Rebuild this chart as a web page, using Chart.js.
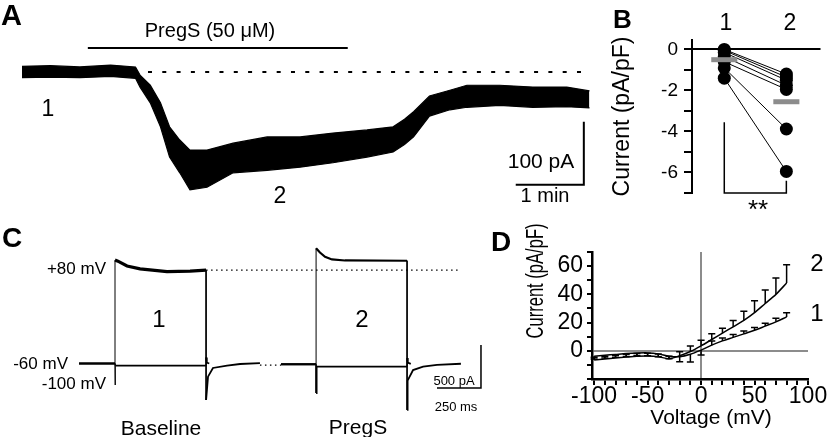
<!DOCTYPE html>
<html>
<head>
<meta charset="utf-8">
<script src="https://cdn.jsdelivr.net/npm/chart.js@4.4.1/dist/chart.umd.min.js"></script>
<style>
  body { margin: 0; background: #fff; }
  #fig { position: relative; width: 827px; height: 437px; overflow: hidden;
         font-family: 'Liberation Sans', Arial, sans-serif; color: #000; }
  canvas { position: absolute; }
  .t { position: absolute; line-height: 1; white-space: nowrap; transform: translate(-50%, -50%); }
  .r { transform: translate(-100%, -50%); }
  .lbl { position: absolute; line-height: 1; font-weight: bold; }
</style>
</head>
<body>
<div id="fig">
  <canvas id="chartA" width="590" height="184" style="left:12px;top:24px"></canvas>
  <canvas id="chartB" width="227" height="215" style="left:600px;top:0px"></canvas>
  <canvas id="chartC" width="430" height="200" style="left:65px;top:228px"></canvas>
  <canvas id="chartD" width="327" height="207" style="left:500px;top:230px"></canvas>

  <div class="lbl" style="left:1px;top:1px;font-size:29px">A</div>
  <div class="t" style="left:210px;top:30px;font-size:20px">PregS (50 μM)</div>
  <div class="t" style="left:48px;top:108px;font-size:23px">1</div>
  <div class="t" style="left:280px;top:195px;font-size:23px">2</div>
  <div class="t" style="left:541px;top:160px;font-size:21px">100 pA</div>
  <div class="t" style="left:545px;top:195px;font-size:20px">1 min</div>

  <div class="lbl" style="left:613px;top:6px;font-size:26px">B</div>
  <div class="t" style="left:726px;top:22px;font-size:23px">1</div>
  <div class="t" style="left:790px;top:22px;font-size:23px">2</div>
  <div class="t" style="left:758px;top:209px;font-size:26px">**</div>

  <div class="lbl" style="left:2px;top:224px;font-size:28px">C</div>
  <div class="t r" style="left:106px;top:268px;font-size:17px">+80 mV</div>
  <div class="t r" style="left:68px;top:363px;font-size:17px">-60 mV</div>
  <div class="t r" style="left:106px;top:383px;font-size:17px">-100 mV</div>
  <div class="t" style="left:159px;top:319px;font-size:24px">1</div>
  <div class="t" style="left:362px;top:319px;font-size:24px">2</div>
  <div class="t" style="left:161px;top:427px;font-size:21px">Baseline</div>
  <div class="t" style="left:358px;top:426px;font-size:21px">PregS</div>
  <div class="t" style="left:454px;top:380px;font-size:13px">500 pA</div>
  <div class="t" style="left:456px;top:406px;font-size:13px">250 ms</div>

  <div class="lbl" style="left:491px;top:228px;font-size:28px">D</div>
  <div class="t" style="left:535px;top:281px;font-size:23px;transform:translate(-50%,-50%) rotate(-90deg) scaleX(0.72)">Current (pA/pF)</div>
  <div class="t" style="left:711px;top:416px;font-size:21px">Voltage (mV)</div>
  <div class="t" style="left:817px;top:263px;font-size:24px">2</div>
  <div class="t" style="left:817px;top:313px;font-size:24px">1</div>
</div>

<script>
Chart.defaults.font.family = "'Liberation Sans', Arial, sans-serif";
Chart.defaults.color = '#000';
Chart.defaults.animation = false;

// ---- A: holding current during PregS application (s, pA); the noisy trace is kept as its upper/lower edge
const traceTime  = [0, 25, 51, 78, 100, 104, 113, 122, 130, 139, 148, 163, 186, 216, 245, 274, 304, 327, 337, 345, 359, 377, 392, 421, 450, 480, 500];
const traceUpper = [9, 10, 8, 11, 8, -5, -21, -49, -87, -108, -124, -124, -113, -103, -103, -97, -92, -87, -75, -63, -38, -29, -21, -21, -24, -24, -30];
const traceLower = [-9, -8, -9, -7, -10, -24, -49, -87, -135, -160, -187, -183, -160, -156, -151, -144, -135, -127, -115, -103, -70, -60, -56, -53, -56, -55, -57];
const pregsOnOff = [58, 287];
const pregsBarLevel = 38;
const baselineDotsFrom = 111;
const scaleA = { x: 495, y: -179, pA: 100, s: 60 };

// ---- B: current density per cell (pA/pF), 1 = baseline, 2 = PregS
const cellsBaseline = [0, -0.05, -0.15, -0.35, -0.6, -0.9, -1.4];
const cellsPregS    = [-1.2, -1.35, -1.5, -1.75, -1.95, -3.88, -5.95];
const meanB = [-0.5, -2.55];
const sigBracket = { top: -3.55, rightTop: -6.4, bottom: -7 };

// ---- C: currents for steps to +80 and -100 mV from -60 mV (ms, pA); trace 2 placed after trace 1
const t1Up = [0, 204.5, 204.5, 221, 273, 347, 500, 631, 722, 722, 733, 761, 841, 915, 1028];
const i1Up = [0, 0, 1203, 1190, 1134, 1100, 1068, 1075, 1085, -424, -153, -52, -25, -6, 5];
const t1Down = [0, 204.5, 204.5, 207, 722, 722, 726, 740];
const i1Down = [0, 0, -250, -25, -25, 70, 10, 0];
const t2Up = [1148, 1347, 1347, 1369, 1398, 1437, 1511, 1864, 1864, 1867, 1898, 1955, 2034, 2170];
const i2Up = [-9, -9, 1340, 1290, 1240, 1210, 1198, 1195, -540, -200, -76, -37, -17, -3];
const t2Down = [1148, 1347, 1347, 1350, 1864, 1864, 1868, 1885];
const i2Down = [-9, -9, -343, -37, -37, 64, 10, -5];
const plateau1 = [2, 8];   // index range of the +80 mV plateau in t1Up
const plateau2 = [2, 7];
const plus80Dots = { from: 722, to: 2153, level: 1085 };
const gapDots = { from: 1028, to: 1148, level: -20 };
const scaleC = { x: 2284, y: -285, pA: 500, ms: 250 };

// ---- D: I-V relation (mV, pA/pF), 1 = baseline, 2 = PregS; errors signed (drawn up or down)
const voltages = [-100, -90, -80, -70, -60, -50, -40, -30, -20, -10, 0, 10, 20, 30, 40, 50, 60, 70, 80];
const ivBaseline = [-3.8, -3.2, -2.6, -2.0, -1.6, -1.5, -2.2, -3.8, -4.2, -2.5, 0.5, 4, 7, 9.5, 12, 14.5, 17.5, 20.5, 24];
const errBaseline = [-2, -2, -2, -2, -2, -2, -2, -1.8, -3.6, -5.5, -3.5, 3, 2, 2, 2, 2, 2, 2.5, 3];
const ivPregS = [-6.5, -5.9, -5.2, -4.5, -3.9, -3.7, -4.2, -5.6, -3.5, -0.5, 3.5, 8, 12.5, 17, 21.5, 27, 33.5, 40, 48];
const errPregS = [2, 2, 2, 2, 2, 2, 2, 1.8, 2.8, 3.8, 4, 4, 3.5, 4.5, 6.5, 8.5, 9.5, 11.5, 13];

function pts(xs, ys) { return xs.map((x, i) => ({ x: x, y: ys[i] })); }

function line(data, extra) {
  return Object.assign({ data: data, borderColor: '#000', borderWidth: 1.5, pointRadius: 0,
                         tension: 0, clip: false, fill: false }, extra || {});
}

function errorBars(xs, ys, errs, capHalf) {
  const out = [];
  xs.forEach((x, i) => {
    const tip = ys[i] + errs[i];
    out.push({ x: x, y: ys[i] }, { x: x, y: tip }, { x: x, y: null },
             { x: x - capHalf, y: tip }, { x: x + capHalf, y: tip }, { x: x, y: null });
  });
  return out;
}

// thick along the noisy plateau, hairline on the vertical step edges, medium elsewhere
function traceWidth(range, thick) {
  return {
    borderWidth: c => {
      if (Math.abs(c.p0.x - c.p1.x) < 0.5) return 1;
      if (c.p0DataIndex >= range[0] && c.p1DataIndex <= range[1]) return thick;
      return 1.8;
    }
  };
}

function bareScales(xmin, xmax, ymin, ymax) {
  return {
    x: { type: 'linear', min: xmin, max: xmax, display: false },
    y: { type: 'linear', min: ymin, max: ymax, display: false }
  };
}

const quiet = { legend: { display: false }, tooltip: { enabled: false } };

// A
new Chart(document.getElementById('chartA'), {
  type: 'line',
  data: { datasets: [
    line(pts(traceTime, traceUpper), { borderWidth: 1.2, fill: '+1', backgroundColor: '#000' }),
    line(pts(traceTime, traceLower), { borderWidth: 1.2 }),
    line([{ x: baselineDotsFrom, y: 0 }, { x: 500, y: 0 }], { borderWidth: 2, borderDash: [4, 10.3] }),
    line([{ x: pregsOnOff[0], y: pregsBarLevel }, { x: pregsOnOff[1], y: pregsBarLevel }], { borderWidth: 2 }),
    line([{ x: scaleA.x, y: scaleA.y + scaleA.pA }, { x: scaleA.x, y: scaleA.y },
          { x: scaleA.x - scaleA.s, y: scaleA.y }], { borderWidth: 2 })
  ]},
  options: {
    responsive: false, events: [],
    layout: { padding: { left: 10, right: 12.5, top: 10.2, bottom: 10 } },
    scales: bareScales(0, 500, -200, 60),
    plugins: quiet
  }
});

// B
const bSets = [
  line([{ x: 0.79, y: meanB[0] }, { x: 1.21, y: meanB[0] }], { borderColor: '#8c8c8c', borderWidth: 5, order: 0 }),
  line([{ x: 1.79, y: meanB[1] }, { x: 2.21, y: meanB[1] }], { borderColor: '#8c8c8c', borderWidth: 5, order: 0 })
];
cellsBaseline.forEach((v, i) => {
  bSets.push(line([{ x: 1, y: v }, { x: 2, y: cellsPregS[i] }],
    { borderWidth: 1, pointRadius: 6.5, pointBackgroundColor: '#000', pointBorderWidth: 0, order: 1 }));
});
bSets.push(line([{ x: 1, y: sigBracket.top }, { x: 1, y: sigBracket.bottom },
                 { x: 2, y: sigBracket.bottom }, { x: 2, y: sigBracket.rightTop }], { borderWidth: 1.5, order: 2 }));

new Chart(document.getElementById('chartB'), {
  type: 'line',
  data: { datasets: bSets },
  options: {
    responsive: false, events: [],
    layout: { padding: { left: 0, right: 0, top: 40, bottom: 22 } },
    scales: {
      x: { type: 'linear', min: 0.48, max: 2.55, display: false },
      y: {
        type: 'linear', min: -7, max: 0.46,
        ticks: { stepSize: 1, includeBounds: false, autoSkip: false, padding: 6, font: { size: 19 },
                 callback: v => (v % 2 === 0 ? String(v) : '') },
        grid: { color: c => (c.tick && c.tick.value === 0 ? '#000' : 'rgba(0,0,0,0)'),
                lineWidth: 2, tickLength: 8, tickColor: '#000', tickWidth: 2 },
        border: { display: true, color: '#000', width: 2 },
        title: { display: true, text: 'Current (pA/pF)', font: { size: 23 }, padding: { top: 9, bottom: 0 } },
        afterFit: s => { s.width = 92; }
      }
    },
    plugins: quiet
  }
});

// C
new Chart(document.getElementById('chartC'), {
  type: 'line',
  data: { datasets: [
    line(pts(t1Down, i1Down), { borderWidth: 1.2, segment: traceWidth([-1, -1], 1.5) }),
    line(pts(t2Down, i2Down), { borderWidth: 1.2, segment: traceWidth([-1, -1], 1.5) }),
    line(pts(t1Up, i1Up), { borderWidth: 1.2, segment: traceWidth(plateau1, 3.2) }),
    line(pts(t2Up, i2Up), { borderWidth: 1.2, segment: traceWidth(plateau2, 2.2) }),
    line([{ x: plus80Dots.from, y: plus80Dots.level }, { x: plus80Dots.to, y: plus80Dots.level }], { borderWidth: 1.3, borderDash: [1.5, 3.5] }),
    line([{ x: gapDots.from, y: gapDots.level }, { x: gapDots.to, y: gapDots.level }], { borderWidth: 1.3, borderDash: [1.5, 3.5] }),
    line([{ x: scaleC.x, y: scaleC.y + scaleC.pA }, { x: scaleC.x, y: scaleC.y },
          { x: scaleC.x - scaleC.ms, y: scaleC.y }], { borderWidth: 1.5 })
  ]},
  options: {
    responsive: false, events: [],
    layout: { padding: { left: 10.5, right: 11.2, top: 10.8, bottom: 12.9 } },
    scales: bareScales(-20, 2300, -600, 1450),
    plugins: quiet
  }
});

// D
const zeroGrid = c => (c.tick && c.tick.value === 0 ? '#8c8c8c' : 'rgba(0,0,0,0)');
new Chart(document.getElementById('chartD'), {
  type: 'line',
  data: { datasets: [
    line(pts(voltages, ivBaseline), { tension: 0.3 }),
    line(pts(voltages, ivPregS), { tension: 0.3 }),
    line(errorBars(voltages, ivBaseline, errBaseline, 3.3), { borderWidth: 1.5 }),
    line(errorBars(voltages, ivPregS, errPregS, 3.3), { borderWidth: 1.5 })
  ]},
  options: {
    responsive: false, events: [],
    layout: { padding: { left: 0, right: 19, top: 22, bottom: 0 } },
    scales: {
      x: {
        type: 'linear', min: -102, max: 100,
        ticks: { stepSize: 10, includeBounds: false, autoSkip: false, maxRotation: 0, minRotation: 0,
                 padding: -2, font: { size: 23 }, callback: v => (v % 50 === 0 ? String(v) : '') },
        grid: { color: zeroGrid, lineWidth: 2, tickLength: 6, tickColor: '#000', tickWidth: 2 },
        border: { display: true, color: '#000', width: 2.5 },
        afterFit: s => { s.height = 58; }
      },
      y: {
        type: 'linear', min: -20, max: 70,
        ticks: { stepSize: 10, autoSkip: false, padding: 4, font: { size: 23 },
                 callback: v => (v >= 0 && v % 20 === 0 ? String(v) : '') },
        grid: { color: zeroGrid, lineWidth: 2, tickLength: 5, tickColor: '#000', tickWidth: 2 },
        border: { display: true, color: '#000', width: 2.5 },
        afterFit: s => { s.width = 92; }
      }
    },
    plugins: quiet
  }
});
</script>
</body>
</html>
